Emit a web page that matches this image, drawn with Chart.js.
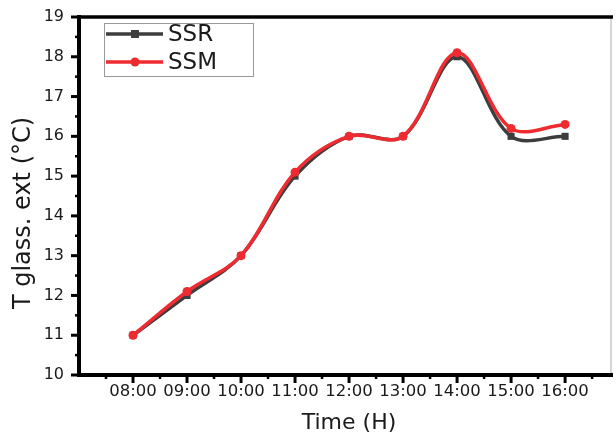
<!DOCTYPE html>
<html><head><meta charset="utf-8">
<script src="https://cdn.jsdelivr.net/npm/chart.js@4.4.1/dist/chart.umd.min.js"></script>
<style>html,body{margin:0;padding:0;background:#fff;}#wrap{width:616px;height:439px;position:relative}</style>
</head><body><div id="wrap"><canvas id="c" width="616" height="439"></canvas></div>
<script>
const hours = [8, 9, 10, 11, 12, 13, 14, 15, 16];
const timeLabels = ['08:00', '09:00', '10:00', '11:00', '12:00', '13:00', '14:00', '15:00', '16:00'];
const ssr = [11, 12, 13, 15, 16, 16, 18, 16, 16];
const ssm = [11, 12.1, 13, 15.1, 16, 16, 18.1, 16.2, 16.3];
const yTickValues = [10, 11, 12, 13, 14, 15, 16, 17, 18, 19];
const seriesNames = ['SSR', 'SSM'];
const xTitle = 'Time (H)';
const yTitle = 'T glass. ext (°C)';

const FONT = '"DejaVu Sans", Arial, sans-serif';
const cGrey = '#3d3d3d';
const cRed = '#ee2b30';

const axesPlugin = {
  id: 'axesPlugin',
  afterDraw(chart) {
    const ctx = chart.ctx;
    const a = chart.chartArea;
    const xs = chart.scales.x, ys = chart.scales.y;
    ctx.save();
    ctx.lineCap = 'butt';
    ctx.strokeStyle = '#c8c8c8'; ctx.lineWidth = 1.5;
    ctx.beginPath(); ctx.moveTo(a.right, a.top); ctx.lineTo(a.right, a.bottom); ctx.stroke();
    ctx.strokeStyle = '#000';
    ctx.lineWidth = 3.5;
    ctx.beginPath(); ctx.moveTo(a.left - 2, a.top); ctx.lineTo(a.right + 2, a.top); ctx.stroke();
    ctx.lineWidth = 4;
    ctx.beginPath(); ctx.moveTo(a.left, a.top - 2); ctx.lineTo(a.left, a.bottom + 2); ctx.stroke();
    ctx.beginPath(); ctx.moveTo(a.left - 2, a.bottom); ctx.lineTo(a.right + 2, a.bottom); ctx.stroke();
    for (let v = ys.min; v <= ys.max + 1e-9; v += 0.5) {
      const y = ys.getPixelForValue(v);
      const major = Math.abs(v - Math.round(v)) < 1e-9;
      ctx.lineWidth = major ? 3 : 2.5;
      ctx.beginPath(); ctx.moveTo(a.left - (major ? 8 : 4), y); ctx.lineTo(a.left, y); ctx.stroke();
    }
    for (let v = 7.5; v <= xs.max + 1e-9; v += 0.5) {
      const x = xs.getPixelForValue(v);
      const major = Math.abs(v - Math.round(v)) < 1e-9;
      ctx.lineWidth = major ? 3 : 2.5;
      ctx.beginPath(); ctx.moveTo(x, a.bottom); ctx.lineTo(x, a.bottom + (major ? 8 : 4)); ctx.stroke();
    }
    ctx.fillStyle = '#1a1a1a';
    ctx.font = '22px ' + FONT;
    ctx.textAlign = 'center'; ctx.textBaseline = 'middle';
    ctx.fillText(xTitle, 349, 423);
    ctx.save();
    ctx.translate(24, 213); ctx.rotate(-Math.PI / 2);
    ctx.font = '24px ' + FONT;
    ctx.fillText(yTitle, 0, 0);
    ctx.restore();
    const lx = 104, ly = 23, lw = 149, lh = 53;
    ctx.fillStyle = '#fff';
    ctx.fillRect(lx, ly, lw, lh);
    ctx.strokeStyle = '#9a9a9a'; ctx.lineWidth = 1;
    ctx.strokeRect(lx + 0.5, ly + 0.5, lw, lh);
    const items = [{c: cGrey, y: 34, s: 'rect'}, {c: cRed, y: 62, s: 'circle'}];
    items.forEach((it, i) => {
      ctx.strokeStyle = it.c; ctx.lineWidth = 3.5;
      ctx.beginPath(); ctx.moveTo(106, it.y); ctx.lineTo(163, it.y); ctx.stroke();
      ctx.fillStyle = it.c;
      if (it.s === 'rect') ctx.fillRect(131, it.y - 4, 8, 8);
      else { ctx.beginPath(); ctx.arc(135, it.y, 4.5, 0, Math.PI * 2); ctx.fill(); }
      ctx.fillStyle = '#1a1a1a';
      ctx.font = '23px ' + FONT;
      ctx.textAlign = 'left'; ctx.textBaseline = 'middle';
      ctx.fillText(seriesNames[i], 168, it.y + 1);
    });
    ctx.restore();
  }
};

const mk = (name, vals, color, style, order) => ({
  label: name,
  data: hours.map((h, i) => ({x: h, y: vals[i]})),
  borderColor: color,
  backgroundColor: color,
  borderWidth: 3.5,
  pointStyle: style,
  pointRadius: style === 'rect' ? 5 : 4.5,
  pointBorderWidth: 0,
  tension: 0.35,
  order: order
});

new Chart(document.getElementById('c'), {
  type: 'line',
  data: {
    datasets: [
      mk(seriesNames[0], ssr, cGrey, 'rect', 2),
      mk(seriesNames[1], ssm, cRed, 'circle', 1)
    ]
  },
  options: {
    responsive: false,
    devicePixelRatio: 1,
    animation: false,
    layout: {padding: {top: 17, right: 5, left: 0, bottom: 0}},
    plugins: {legend: {display: false}, tooltip: {enabled: false}},
    scales: {
      x: {
        type: 'linear', min: 7, max: 16.85,
        afterBuildTicks: s => { s.ticks = hours.map(v => ({value: v})); },
        afterFit: s => { s.height = 64; s.paddingLeft = 0; s.paddingRight = 0; },
        grid: {display: false, drawTicks: false},
        border: {display: false},
        ticks: {
          autoSkip: false, maxRotation: 0, padding: 7,
          color: '#1a1a1a', font: {family: FONT, size: 16.5},
          callback: v => {
            const i = hours.indexOf(v);
            return i >= 0 ? timeLabels[i] : '';
          }
        }
      },
      y: {
        min: 10, max: 19,
        afterBuildTicks: s => { s.ticks = yTickValues.map(v => ({value: v})); },
        afterFit: s => { s.width = 79; s.paddingTop = 0; s.paddingBottom = 0; },
        grid: {display: false, drawTicks: false},
        border: {display: false},
        ticks: {padding: 15, color: '#1a1a1a', font: {family: FONT, size: 16}}
      }
    }
  },
  plugins: [axesPlugin]
});
</script></body></html>
